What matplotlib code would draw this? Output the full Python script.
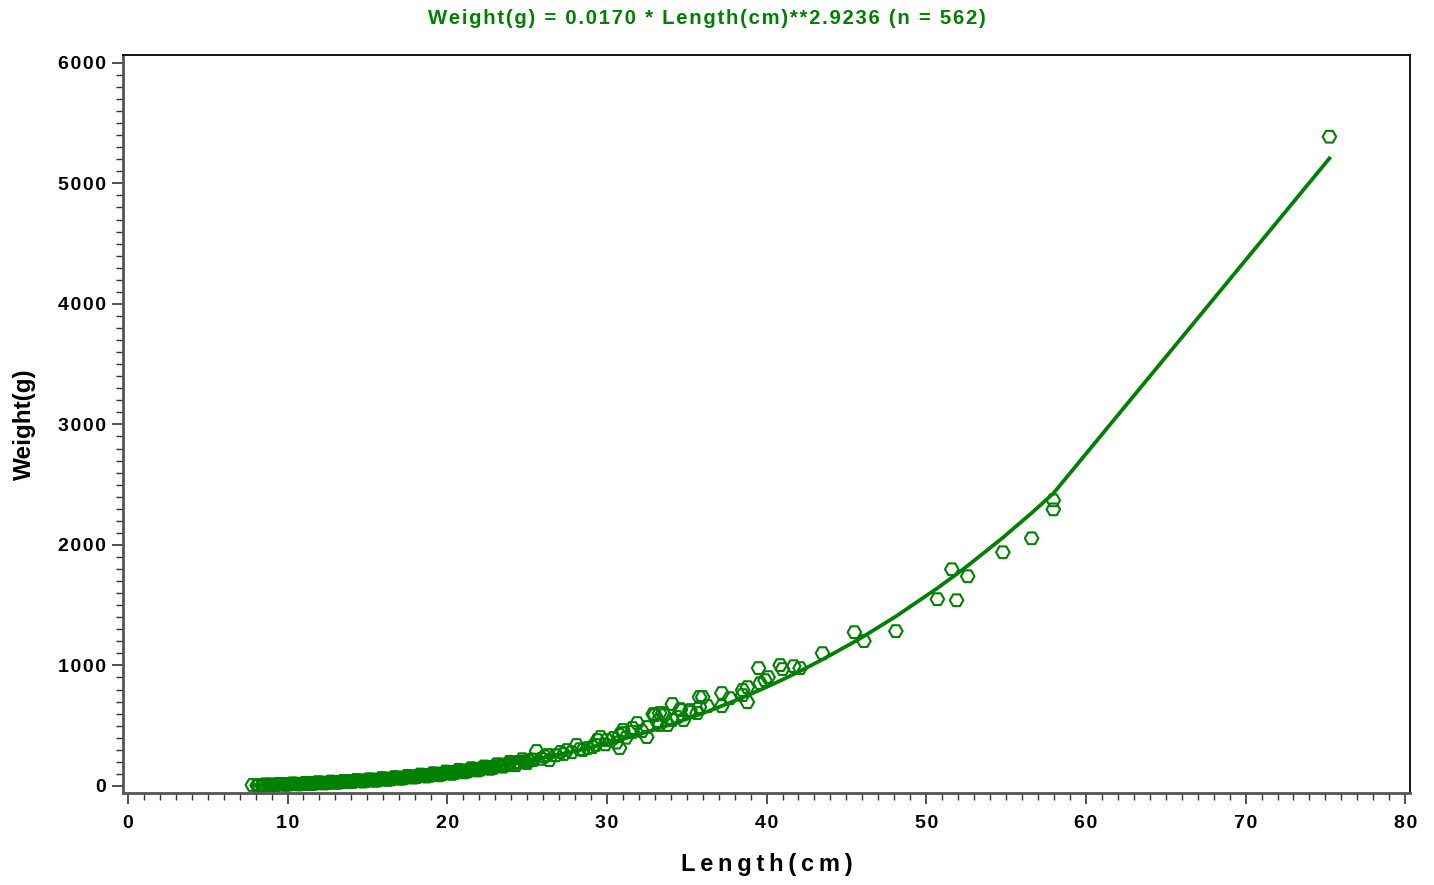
import numpy as np
import matplotlib
matplotlib.use("Agg")
import matplotlib.pyplot as plt
from matplotlib.ticker import MultipleLocator, FuncFormatter

# ============ fit parameters (from title) ============
a_coef, b_coef = 0.0170, 2.9236
n_obs = 562
GREEN = "#008000"
# =====================================================

# dense band, close to the curve
len_a = [7.8, 8.2, 8.5, 8.8, 9.0, 9.2, 9.4, 9.6, 9.8, 10.0, 10.2, 10.4, 10.6, 10.8,
         11.0, 11.2, 11.4, 11.6, 11.8, 12.0, 12.2, 12.4, 12.6, 12.8, 13.0, 13.2, 13.4,
         13.6, 13.8, 14.0, 14.2, 14.4, 14.6, 14.8, 15.0, 15.2, 15.4, 15.6, 15.8, 16.0,
         16.2, 16.4, 16.6, 16.8, 17.0, 17.2, 17.4, 17.6, 17.8, 18.0, 18.2, 18.4, 18.6,
         18.8, 19.0, 19.2, 19.4, 19.6, 19.8, 20.0, 20.2, 20.4, 20.6, 20.8, 21.0, 21.2,
         21.4, 21.6, 21.8, 22.0, 22.2, 22.4, 22.6, 22.8, 23.0, 23.3, 23.6, 23.9, 24.2,
         24.5, 24.8, 25.1]
wt_a = [8, 8, 9, 10, 11, 12, 12, 13, 14, 15, 15, 16, 17, 18,
        19, 20, 21, 22, 23, 25, 26, 27, 28, 30, 31, 32, 34,
        35, 37, 38, 40, 41, 43, 45, 47, 48, 50, 52, 54, 56,
        58, 60, 63, 65, 67, 69, 72, 74, 77, 80, 82, 85, 88,
        90, 93, 96, 99, 102, 105, 108, 111, 115, 118, 121, 125, 128,
        132, 135, 139, 143, 147, 151, 155, 159, 163, 169, 176, 182, 189,
        196, 203, 210]

# dense band, spread above / below
len_b = [8.1, 8.6, 9.1, 9.5, 9.9, 10.3, 10.7, 11.1, 11.5, 11.9, 12.3, 12.7, 13.1, 13.5,
         13.9, 14.3, 14.7, 15.1, 15.5, 15.9, 16.3, 16.7, 17.1, 17.5, 17.9, 18.3, 18.7,
         19.1, 19.5, 19.9, 20.3, 20.7, 21.1, 21.5, 21.9, 22.3, 22.7, 23.1, 23.5, 23.9,
         24.3, 24.7, 25.0]
wt_b = [4, 14, 6, 18, 9, 22, 12, 26, 15, 32, 20, 37, 25, 42,
        31, 50, 36, 56, 42, 66, 50, 74, 59, 84, 69, 95, 78,
        106, 88, 120, 100, 134, 113, 148, 128, 162, 142, 180, 160, 200,
        172, 222, 190]

len_e = [8.4, 8.9, 9.3, 9.7, 10.1, 10.5, 10.9, 11.3, 11.7, 12.1, 12.5, 12.9, 13.3, 13.7,
         14.1, 14.5, 14.9, 15.3, 15.7, 16.1, 16.5, 16.9, 17.3, 17.7, 18.1, 18.5, 18.9,
         19.3, 19.7, 20.1, 20.5, 20.9, 21.3, 21.7, 22.1, 22.5, 22.9, 23.4, 23.8, 24.4,
         24.9, 25.3]
wt_e = [6, 12, 9, 16, 12, 19, 15, 23, 19, 28, 23, 33, 29, 40,
        34, 46, 41, 53, 48, 62, 55, 70, 64, 80, 74, 90, 84,
        102, 96, 114, 108, 128, 121, 142, 136, 158, 150, 178, 172, 198,
        196, 220]

# middle lengths, looser scatter
len_c = [25.6, 25.4, 25.9, 26.3, 26.4, 26.1, 26.8, 27.1, 27.5, 27.3, 27.8, 28.1, 28.5,
         28.3, 28.8, 29.1, 29.4, 29.6, 29.3, 29.9, 30.0, 30.4, 30.8, 30.8, 30.6, 31.0,
         31.0, 31.2, 31.6, 31.6, 31.9, 32.2, 32.5, 32.5, 32.9, 33.0, 33.2, 33.3, 33.3,
         33.5, 33.6, 33.8, 34.1, 34.1, 34.4, 34.6, 34.6, 34.8, 35.2, 35.2, 35.65, 35.8,
         35.8, 36.0, 36.3, 37.2, 37.2, 37.7, 38.5, 38.5, 38.8, 38.8, 39.5, 39.6, 39.9,
         40.1, 40.85, 41.0, 41.7, 42.1]
wt_c = [290, 215, 225, 257, 215, 245, 255, 282, 298, 265, 280, 340, 298,
        305, 315, 323, 381, 406, 340, 345, 381, 398, 315, 423, 360, 439,
        464, 400, 448, 481, 522, 455, 489, 406, 597, 588, 539, 605, 506,
        605, 588, 506, 547, 680, 572, 638, 630, 547, 630, 613, 605, 738,
        655, 738, 663, 771, 663, 729, 796, 754, 820, 696, 978, 853, 878,
        903, 1003, 970, 994, 978]

# large fish, single points
len_d = [43.5, 45.5, 46.1, 48.1, 50.7, 51.6, 51.9, 52.6, 54.8, 56.6, 57.96, 57.96, 75.25]
wt_d = [1102, 1276, 1202, 1285, 1550, 1798, 1541, 1740, 1939, 2055, 2370, 2295, 5387]

length = np.array(len_a + len_b + len_e + len_c + len_d)
weight = np.array(wt_a + wt_b + wt_e + wt_c + wt_d)

# fitted curve at the observed lengths (piecewise, like the original)
fit_x = np.unique(length)
fit_y = a_coef * fit_x ** b_coef


def spaced(s, sep="\u200a"):
    # SAS-style letter spacing
    return sep.join(s)


plt.rcParams["font.family"] = ["Liberation Sans", "DejaVu Sans"]
plt.rcParams["font.weight"] = "bold"

fig = plt.figure(figsize=(14.34, 8.85), dpi=100)
ax = fig.add_axes([0.0858, 0.104, 0.8975, 0.834])

ax.scatter(length, weight, marker="H", s=95, facecolors="none",
           edgecolors=GREEN, linewidths=1.5, zorder=2)
ax.plot(fit_x, fit_y, color=GREEN, lw=2.7, zorder=3)

ax.set_xlim(-0.3, 80.3)
ax.set_ylim(-58, 6066)
ax.xaxis.set_major_locator(MultipleLocator(10))
ax.xaxis.set_minor_locator(MultipleLocator(1))
ax.yaxis.set_major_locator(MultipleLocator(1000))
ax.yaxis.set_minor_locator(MultipleLocator(100))
fmt = FuncFormatter(lambda v, p: spaced(f"{v:.0f}"))
ax.xaxis.set_major_formatter(fmt)
ax.yaxis.set_major_formatter(fmt)

ax.tick_params(which="major", direction="out", length=8, width=1.2,
               labelsize=14, color="#333333")
ax.tick_params(axis="x", which="major", pad=8)
ax.tick_params(axis="y", which="major", pad=4)
ax.tick_params(which="minor", direction="out", length=5, width=1.0, color="#333333")
for lab in ax.get_xticklabels() + ax.get_yticklabels():
    lab.set_fontweight("bold")

for side in ("left", "bottom"):
    ax.spines[side].set_color("#555555")
    ax.spines[side].set_linewidth(2.0)
for side in ("top", "right"):
    ax.spines[side].set_color("black")
    ax.spines[side].set_linewidth(1.3)

ax.set_xlabel(spaced("Length(cm)", "\u2009"), fontsize=17, fontweight="bold")
ax.xaxis.set_label_coords(0.5, -0.081)
ax.set_ylabel("Weight(g)", fontsize=17.5, fontweight="bold")
ax.yaxis.set_label_coords(-0.068, 0.5)

fig.text(0.4927, 0.979,
         spaced(f"Weight(g) = {a_coef:.4f} * Length(cm)**{b_coef:.4f} (n = {n_obs})"),
         ha="center", va="center", color=GREEN, fontsize=14.6, fontweight="bold")

fig.savefig("out.png", dpi=100)
